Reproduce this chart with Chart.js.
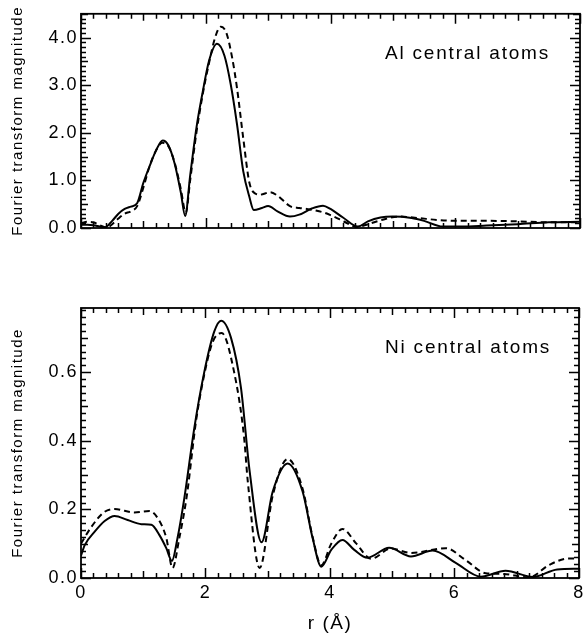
<!DOCTYPE html>
<html>
<head>
<meta charset="utf-8">
<script src="https://cdn.jsdelivr.net/npm/chart.js@4.4.1/dist/chart.umd.min.js"></script>
<style>
  body { margin: 0; background: #fff; }
  .panel { position: absolute; left: 0; }
</style>
</head>
<body>
<div class="panel" style="top:0"><canvas id="alChart" width="588" height="300"></canvas></div>
<div class="panel" style="top:292px"><canvas id="niChart" width="588" height="343"></canvas></div>
<script>
// Al central atoms (top panel)
const alSolidR = [0, 0.1, 0.2, 0.3, 0.38, 0.5, 0.6, 0.7, 0.8, 0.9, 1.0, 1.1, 1.2, 1.31, 1.4, 1.5, 1.6, 1.67, 1.75, 1.85, 1.95, 2.05, 2.18, 2.3, 2.4, 2.5, 2.6, 2.7, 2.77, 2.9, 3.0, 3.15, 3.35, 3.5, 3.7, 3.88, 4.0, 4.2, 4.44, 4.6, 4.8, 5.0, 5.3, 5.5, 5.8, 6.1, 6.5, 7.0, 7.5, 8.0];
const alSolid = [0.07, 0.07, 0.06, 0.03, 0.01, 0.15, 0.30, 0.40, 0.45, 0.52, 0.95, 1.30, 1.62, 1.84, 1.74, 1.36, 0.75, 0.25, 1.10, 2.10, 2.85, 3.50, 3.87, 3.62, 3.02, 2.19, 1.20, 0.65, 0.38, 0.42, 0.46, 0.35, 0.24, 0.28, 0.41, 0.47, 0.40, 0.22, 0.03, 0.14, 0.22, 0.24, 0.21, 0.15, 0.03, 0.03, 0.05, 0.08, 0.12, 0.13];
const alDashR = [0, 0.1, 0.2, 0.3, 0.42, 0.5, 0.6, 0.7, 0.8, 0.9, 1.0, 1.1, 1.2, 1.3, 1.4, 1.5, 1.6, 1.68, 1.75, 1.85, 1.95, 2.05, 2.15, 2.24, 2.33, 2.42, 2.5, 2.6, 2.7, 2.8, 2.87, 3.03, 3.15, 3.35, 3.5, 3.62, 3.75, 3.88, 4.0, 4.15, 4.3, 4.42, 4.6, 4.8, 5.1, 5.4, 5.7, 6.0, 6.5, 7.0, 7.5, 8.0];
const alDash = [0.10, 0.13, 0.12, 0.06, 0.01, 0.08, 0.20, 0.30, 0.35, 0.46, 0.85, 1.30, 1.62, 1.79, 1.72, 1.38, 0.82, 0.32, 1.00, 2.00, 2.80, 3.45, 4.00, 4.23, 4.10, 3.60, 2.95, 1.90, 0.95, 0.72, 0.70, 0.75, 0.68, 0.46, 0.42, 0.40, 0.37, 0.33, 0.27, 0.18, 0.08, 0.02, 0.08, 0.16, 0.24, 0.21, 0.17, 0.15, 0.15, 0.14, 0.12, 0.12];

// Ni central atoms (bottom panel)
const niSolidR = [0, 0.06, 0.22, 0.38, 0.54, 0.75, 0.97, 1.13, 1.26, 1.37, 1.46, 1.55, 1.66, 1.82, 1.98, 2.14, 2.25, 2.41, 2.57, 2.71, 2.90, 3.08, 3.32, 3.56, 3.72, 3.86, 4.02, 4.2, 4.39, 4.6, 4.95, 5.3, 5.65, 6.02, 6.42, 6.82, 7.26, 7.65, 8.0];
const niSolid = [0.065, 0.096, 0.135, 0.166, 0.181, 0.169, 0.157, 0.155, 0.125, 0.087, 0.050, 0.116, 0.233, 0.437, 0.600, 0.718, 0.750, 0.700, 0.554, 0.310, 0.104, 0.252, 0.334, 0.252, 0.117, 0.033, 0.082, 0.111, 0.082, 0.059, 0.088, 0.063, 0.080, 0.044, 0.004, 0.021, 0.003, 0.025, 0.027];
const niDashR = [0, 0.17, 0.38, 0.54, 0.86, 1.10, 1.23, 1.37, 1.47, 1.58, 1.7, 1.85, 2.0, 2.12, 2.26, 2.46, 2.62, 2.68, 2.87, 3.08, 3.32, 3.56, 3.72, 3.86, 4.02, 4.2, 4.42, 4.66, 4.98, 5.3, 5.86, 6.18, 6.5, 6.77, 7.2, 7.52, 7.83, 8.0];
const niDash = [0.100, 0.150, 0.193, 0.201, 0.191, 0.195, 0.175, 0.117, 0.029, 0.117, 0.240, 0.460, 0.610, 0.690, 0.714, 0.600, 0.410, 0.280, 0.029, 0.240, 0.347, 0.260, 0.120, 0.037, 0.100, 0.143, 0.101, 0.056, 0.086, 0.073, 0.087, 0.052, 0.014, 0.012, 0.002, 0.038, 0.057, 0.057];

const xTickLabels = [0, 2, 4, 6, 8];

const toPoints = (rs, vs) => rs.map((r, i) => ({ x: r, y: vs[i] }));

const fontFamily = '"Liberation Sans", Arial, Helvetica, sans-serif';

// box, inward ticks on all four sides, and the panel label
const frameTicks = {
  id: 'frameTicks',
  beforeDraw(chart) {
    chart.ctx.letterSpacing = '1.5px';
  },
  afterDraw(chart, args, opts) {
    const { ctx, chartArea: a, scales: { x, y } } = chart;
    ctx.save();
    ctx.strokeStyle = '#000';
    ctx.lineWidth = 1.5;
    ctx.beginPath();
    for (let i = 0; i <= 40; i++) {
      const px = Math.round(x.getPixelForValue(i * 0.2)) + 0.5;
      const len = i % 10 === 0 ? 10 : (i % 5 === 0 ? 7 : 5);
      ctx.moveTo(px, a.bottom); ctx.lineTo(px, a.bottom - len);
      ctx.moveTo(px, a.top); ctx.lineTo(px, a.top + len);
    }
    for (let i = 0; i * opts.yStep <= y.max + 1e-9; i++) {
      const py = Math.round(y.getPixelForValue(i * opts.yStep)) + 0.5;
      const len = i % 10 === 0 ? 10 : (i % 5 === 0 ? 7 : 5);
      ctx.moveTo(a.left, py); ctx.lineTo(a.left + len, py);
      ctx.moveTo(a.right, py); ctx.lineTo(a.right - len, py);
    }
    ctx.stroke();
    ctx.lineWidth = 1.8;
    ctx.strokeRect(a.left, a.top, a.right - a.left, a.bottom - a.top);

    ctx.letterSpacing = '1.8px';
    ctx.fillStyle = '#000';
    ctx.font = '19px ' + fontFamily;
    ctx.textBaseline = 'alphabetic';
    ctx.textAlign = 'left';
    ctx.fillText(opts.label, 385, a.top + 45);
    ctx.restore();
  }
};

function makeChart(canvasId, solid, dashed, yMax, yStep, label, showX, padding) {
  return new Chart(document.getElementById(canvasId), {
    type: 'line',
    data: {
      datasets: [
        { data: solid, borderColor: '#000', borderWidth: 2, pointRadius: 0, cubicInterpolationMode: 'monotone' },
        { data: dashed, borderColor: '#000', borderWidth: 2, borderDash: [6, 4], pointRadius: 0, cubicInterpolationMode: 'monotone' },
      ],
    },
    options: {
      responsive: false,
      animation: false,
      layout: { padding },
      plugins: {
        legend: { display: false },
        tooltip: { enabled: false },
        frameTicks: { yStep, label },
      },
      scales: {
        x: {
          type: 'linear',
          min: 0,
          max: 8,
          display: showX,
          grid: { display: false, drawTicks: false },
          border: { display: false },
          afterBuildTicks: (s) => { s.ticks = xTickLabels.map((v) => ({ value: v })); },
          ticks: { color: '#000', padding: 4, font: { family: fontFamily, size: 18 } },
          title: { display: true, text: 'r (Å)', color: '#000', padding: { top: 0, bottom: 0 }, font: { family: fontFamily, size: 19 } },
          afterFit: (s) => { s.height = 57; },
        },
        y: {
          min: 0,
          max: yMax,
          grid: { display: false, drawTicks: false },
          border: { display: false },
          ticks: {
            stepSize: yStep * 10,
            includeBounds: false,
            color: '#000',
            padding: 3,
            font: { family: fontFamily, size: 18 },
            callback: (v) => v.toFixed(1),
          },
          title: { display: true, text: 'Fourier transform magnitude', color: '#000', padding: { top: 9, bottom: 0 }, font: { family: fontFamily, size: 15 } },
          afterFit: (s) => { s.width = 81; },
        },
      },
    },
    plugins: [frameTicks],
  });
}

makeChart('alChart', toPoints(alSolidR, alSolid), toPoints(alDashR, alDash), 4.5, 0.1, 'Al central atoms', false, { top: 13, bottom: 15, left: 0, right: 8 });
makeChart('niChart', toPoints(niSolidR, niSolid), toPoints(niDashR, niDash), 0.787, 0.02, 'Ni central atoms', true, { top: 16, bottom: 0, left: 0, right: 8 });
</script>
</body>
</html>
